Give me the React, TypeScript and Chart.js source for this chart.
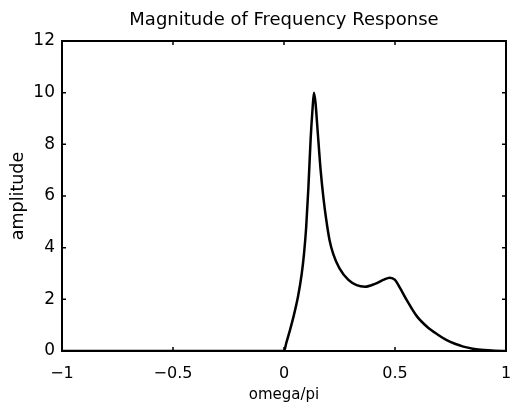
import React, { useEffect, useRef } from "react";
import { Chart, registerables } from "chart.js";

Chart.register(...registerables);

const omega: number[] = [
  -1, 0, 0.01, 0.025, 0.042, 0.064, 0.08, 0.09, 0.1, 0.11, 0.12, 0.128, 0.135,
  0.142, 0.15, 0.165, 0.178, 0.19, 0.205, 0.222, 0.25, 0.29, 0.327, 0.365,
  0.41, 0.447, 0.477, 0.5, 0.523, 0.553, 0.598, 0.643, 0.695, 0.733, 0.77,
  0.808, 0.85, 0.9, 0.95, 1,
];
const amplitude: number[] = [
  0, 0, 0.3, 0.75, 1.3, 2.15, 3.0, 3.75, 4.8, 6.35, 8.2, 9.3, 10.0,
  9.6, 8.7, 7.0, 5.9, 5.1, 4.3, 3.75, 3.2, 2.75, 2.55, 2.49,
  2.6, 2.75, 2.84, 2.75, 2.43, 1.97, 1.35, 0.95, 0.62, 0.42, 0.28,
  0.17, 0.09, 0.035, 0.01, 0,
];
const xTickValues: number[] = [-1, -0.5, 0, 0.5, 1];
const xTickLabels: string[] = ["\u22121", "\u22120.5", "0", "0.5", "1"];
const yTickValues: number[] = [0, 2, 4, 6, 8, 10, 12];

const titleText = "Magnitude of Frequency Response";
const xTitle = "omega/pi";
const yTitle = "amplitude";

const FONT = "'DejaVu Sans', 'Liberation Sans', Arial, sans-serif";

const boxPlugin = {
  id: "matlabBox",
  afterDraw(chart: any) {
    const { ctx, chartArea } = chart;
    const { left, right, top, bottom } = chartArea;
    const xs = chart.scales.x;
    const ys = chart.scales.y;
    const tl = 4;
    ctx.save();
    ctx.strokeStyle = "#000";
    ctx.lineWidth = 1.5;
    for (const v of xTickValues) {
      const px = xs.getPixelForValue(v);
      ctx.beginPath();
      ctx.moveTo(px, bottom);
      ctx.lineTo(px, bottom - tl);
      ctx.moveTo(px, top);
      ctx.lineTo(px, top + tl);
      ctx.stroke();
    }
    for (const v of yTickValues) {
      const py = ys.getPixelForValue(v);
      ctx.beginPath();
      ctx.moveTo(left, py);
      ctx.lineTo(left + tl, py);
      ctx.moveTo(right, py);
      ctx.lineTo(right - tl, py);
      ctx.stroke();
    }
    ctx.lineWidth = 2;
    ctx.strokeRect(left, top, right - left, bottom - top);
    ctx.restore();
  },
};

export default function App() {
  const ref = useRef<HTMLCanvasElement | null>(null);
  useEffect(() => {
    if (!ref.current) return;
    const data = omega.map((x, i) => ({ x, y: amplitude[i] }));
    const chart = new Chart(ref.current, {
      type: "line",
      data: {
        datasets: [
          {
            data,
            borderColor: "#000",
            borderWidth: 2.5,
            pointRadius: 0,
            fill: false,
            cubicInterpolationMode: "monotone",
          },
        ],
      },
      options: {
        animation: false,
        responsive: false,
        maintainAspectRatio: false,
        layout: { padding: { left: 0, right: 7, top: 0, bottom: 0 } },
        plugins: {
          legend: { display: false },
          tooltip: { enabled: false },
          title: {
            display: true,
            text: titleText,
            fullSize: false,
            color: "#000",
            font: { family: FONT, size: 18, weight: "normal" },
            padding: { top: 10, bottom: 9.4 },
          },
        },
        scales: {
          x: {
            type: "linear",
            min: -1,
            max: 1,
            afterBuildTicks: (s: any) => {
              s.ticks = xTickValues.map((v) => ({ value: v }));
            },
            afterFit: (s: any) => {
              s.height = 57;
              s.paddingLeft = 0;
              s.paddingRight = 0;
            },
            grid: { display: false, drawTicks: false },
            border: { display: false },
            ticks: {
              color: "#000",
              padding: 13,
              maxRotation: 0,
              autoSkip: false,
              font: { family: FONT, size: 16 },
              callback: (v: any) => {
                const i = xTickValues.indexOf(Number(v));
                return i >= 0 ? xTickLabels[i] : "";
              },
            },
            title: {
              display: true,
              text: xTitle,
              color: "#000",
              font: { family: FONT, size: 15 },
              padding: { top: 0, bottom: 4 },
            },
          },
          y: {
            type: "linear",
            min: 0,
            max: 12,
            afterBuildTicks: (s: any) => {
              s.ticks = yTickValues.map((v) => ({ value: v }));
            },
            afterFit: (s: any) => {
              s.width = 62;
              s.paddingTop = 0;
              s.paddingBottom = 0;
            },
            grid: { display: false, drawTicks: false },
            border: { display: false },
            ticks: {
              color: "#000",
              padding: 7,
              autoSkip: false,
              font: { family: FONT, size: 17 },
            },
            title: {
              display: true,
              text: yTitle,
              color: "#000",
              font: { family: FONT, size: 17.5 },
              padding: { top: 7.5, bottom: 0 },
            },
          },
        },
      },
      plugins: [boxPlugin],
    });
    return () => chart.destroy();
  }, []);
  return (
    <div style={{ position: "fixed", left: 0, top: 0, width: 513, height: 408, background: "#fff" }}>
      <canvas ref={ref} width={513} height={408} />
    </div>
  );
}
